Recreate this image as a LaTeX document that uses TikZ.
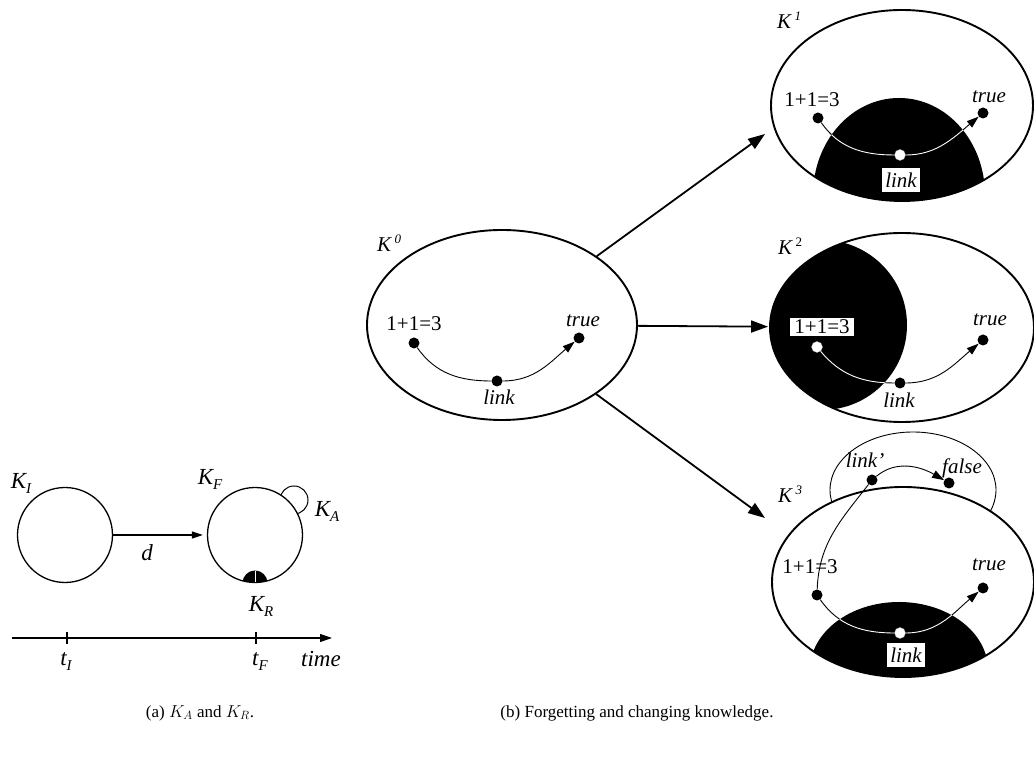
\documentclass[tikz,border=0pt]{standalone}
\usepackage[no-math]{fontspec}
\setmainfont{Liberation Serif}
\usetikzlibrary{shapes.geometric,arrows.meta}
\newcommand{\ksb}[1]{\raisebox{-5pt}{\fontsize{15}{15}\selectfont #1}}
\newcommand{\ksp}[1]{\,\raisebox{8pt}{\fontsize{13}{13}\selectfont #1}}
\begin{document}
\begin{tikzpicture}[x=1pt,y=1pt,
 txt/.style={font=\fontsize{21}{24}\selectfont, inner sep=0pt},
 itx/.style={font=\fontsize{21}{24}\selectfont\itshape, inner sep=0pt},
 ita/.style={font=\fontsize{23}{26}\selectfont\itshape, inner sep=0pt},
 dot/.style={circle, fill=black, inner sep=0pt, minimum size=11pt},
 wdot/.style={circle, fill=white, draw=black!35, line width=0.3pt, inner sep=0pt, minimum size=11pt},
 kell/.style={ellipse, draw, line width=1.9pt, inner sep=0pt},
 state/.style={circle, draw, line width=1.3pt, inner sep=0pt, minimum size=95pt},
 bigarr/.style={line width=1.8pt, -{Triangle[length=17pt,width=12pt]}},
 inarr/.style={line width=0.9pt, -{Triangle[length=12pt,width=8pt]}},
 incurve/.style={line width=0.9pt},
 whitecurve/.style={white, line width=0.9pt},
 wbox/.style={fill=white, inner xsep=4pt, inner ysep=2pt},
 lbox/.style={fill=white, inner xsep=3.5pt, inner ysep=5pt},
 capt/.style={font=\fontsize{17}{20}\selectfont, inner sep=0pt}
]
\useasboundingbox (0,0) rectangle (1034,757);

% ---------- panel (a)
\node[state] (KI) at (65,757-535) {};
\draw[line width=1pt] (294,757-500) circle[radius=14pt];
\node[state, fill=white] (KF) at (255,757-535) {};
\begin{scope}
 \clip (255,757-535) circle[radius=47.5pt];
 \fill (255,757-583) circle[radius=12.5pt];
\end{scope}
\draw[white, line width=0.4pt] (255,757-571) -- (255,757-582);
\draw[line width=1.2pt, -{Triangle[length=11pt,width=7pt]}, shorten >=4pt] (KI) -- (KF);
\node[ita] (d) at (147,757-553) {d};
\node[ita] (lKI) at (21,757-483) {K\ksb{I}};
\node[ita] (lKF) at (210,757-479) {K\ksb{F}};
\node[ita] (lKA) at (327,757-511) {K\ksb{A}};
\node[ita] (lKR) at (261,757-606) {K\ksb{R}};
\coordinate (ax0) at (12,757-638);
\coordinate (ax1) at (332,757-638);
\draw[line width=1.1pt, -{Triangle[length=12pt,width=8pt]}] (ax0) -- (ax1);
\draw[line width=1.1pt] (67,757-632) -- (67,757-644);
\draw[line width=1.1pt] (256,757-632) -- (256,757-644);
\node[ita] (tI) at (66,757-662) {t\ksb{I}};
\node[ita] (tF) at (260,757-662) {t\ksb{F}};
\node[ita] (time) at (321,757-659) {time};

% ---------- panel (b): K0
\node[kell, minimum width=270pt, minimum height=190pt] (K0) at (502,757-325) {};
\node[itx] (lK0) at (389,757-243) {K\ksp{0}};
\node[dot] (a0) at (414,757-343) {};
\node[dot] (l0) at (497,757-381) {};
\node[dot] (t0) at (579,757-338) {};
\draw[inarr] (a0) to[out=-55,in=180] (l0) to[out=0,in=-140] (t0);
\node[txt] (a0t) at (414,757-324) {1+1=3};
\node[itx] (t0t) at (583,757-321) {true};
\node[itx] (l0t) at (499,757-397) {link};

% ---------- K1
\node[kell, minimum width=262pt, minimum height=191pt] (K1) at (902,757-105.5) {};
\begin{scope}
 \clip (902,757-105.5) ellipse[x radius=131pt, y radius=95.5pt];
 \fill (899,757-195) ellipse[x radius=86pt, y radius=97pt];
\end{scope}
\node[itx] (lK1) at (789,757-20) {K\ksp{1}};
\node[dot] (a1) at (818,757-118) {};
\node[wdot] (l1) at (900,757-155) {};
\node[dot] (t1) at (983,757-113) {};
\draw[inarr] (a1) to[out=-55,in=180] (l1) to[out=0,in=-140] (t1);
\begin{scope}
 \clip (899,757-195) ellipse[x radius=86pt, y radius=97pt];
 \draw[whitecurve] (a1) to[out=-55,in=180] (l1) to[out=0,in=-140] (t1);
\end{scope}
\node[txt] (a1t) at (812,757-100) {1+1=3};
\node[itx] (t1t) at (989,757-97) {true};
\node[itx, lbox] (l1t) at (901,757-180) {link};

% ---------- K2
\node[kell, minimum width=264pt, minimum height=189pt] (K2) at (902,757-327.5) {};
\begin{scope}
 \clip (902,757-327.5) ellipse[x radius=132pt, y radius=94.5pt];
 \fill (822,757-325) circle[radius=85pt];
\end{scope}
\node[itx] (lK2) at (790,757-246) {K\ksp{\upshape 2}};
\node[wdot] (a2) at (817,757-347) {};
\node[dot] (l2) at (900,757-383) {};
\node[dot] (t2) at (983,757-340) {};
\draw[inarr] (a2) to[out=-50,in=180] (l2) to[out=0,in=-140] (t2);
\begin{scope}
 \clip (822,757-325) circle[radius=85pt];
 \draw[whitecurve] (a2) to[out=-50,in=180] (l2) to[out=0,in=-140] (t2);
\end{scope}
\node[txt, wbox] (a2t) at (822,757-327) {1+1=3};
\node[itx] (t2t) at (990,757-320) {true};
\node[itx] (l2t) at (899,757-400) {link};

% ---------- K3
\node[ellipse, draw, line width=0.9pt, inner sep=0pt, minimum width=166pt, minimum height=116pt] (K3s) at (913,757-490) {};
\node[kell, fill=white, minimum width=262pt, minimum height=190pt] (K3) at (903,757-582) {};
\begin{scope}
 \clip (903,757-582) ellipse[x radius=131pt, y radius=95pt];
 \fill (899,757-670) ellipse[x radius=89pt, y radius=68pt];
\end{scope}
\node[itx] (lK3) at (790,757-494) {K\ksp{3}};
\node[dot] (a3) at (817,757-595) {};
\node[wdot] (l3) at (900,757-633) {};
\node[dot] (t3) at (983,757-588) {};
\node[dot] (lp) at (872,757-480) {};
\node[dot] (f3) at (949,757-483) {};
\draw[inarr] (a3) to[out=-55,in=180] (l3) to[out=0,in=-140] (t3);
\begin{scope}
 \clip (899,757-670) ellipse[x radius=89pt, y radius=68pt];
 \draw[whitecurve] (a3) to[out=-55,in=180] (l3) to[out=0,in=-140] (t3);
\end{scope}
\draw[incurve] (a3) to[out=88,in=-128] (lp);
\draw[inarr] (lp) to[out=40,in=150] (f3);
\node[txt] (a3t) at (810,757-567) {1+1=3};
\node[itx] (t3t) at (989,757-565) {true};
\node[itx, lbox] (l3t) at (906,757-655) {link};
\node[itx] (lpt) at (865,757-460) {link'};
\node[itx] (f3t) at (962,757-468) {false};

% ---------- arrows between states
\coordinate (e1) at (765,757-134);
\coordinate (e3) at (765,757-518);
\draw[bigarr] (K0) -- (e1);
\draw[bigarr, shorten >=1pt] (K0) -- (K2);
\draw[bigarr] (K0) -- (e3);

% ---------- captions
\node[capt] (capa) at (200,757-713) {(a) $K_A$ and $K_R$.};
\node[capt] (capb) at (637,757-713) {(b) Forgetting and changing knowledge.};
\end{tikzpicture}
\end{document}
